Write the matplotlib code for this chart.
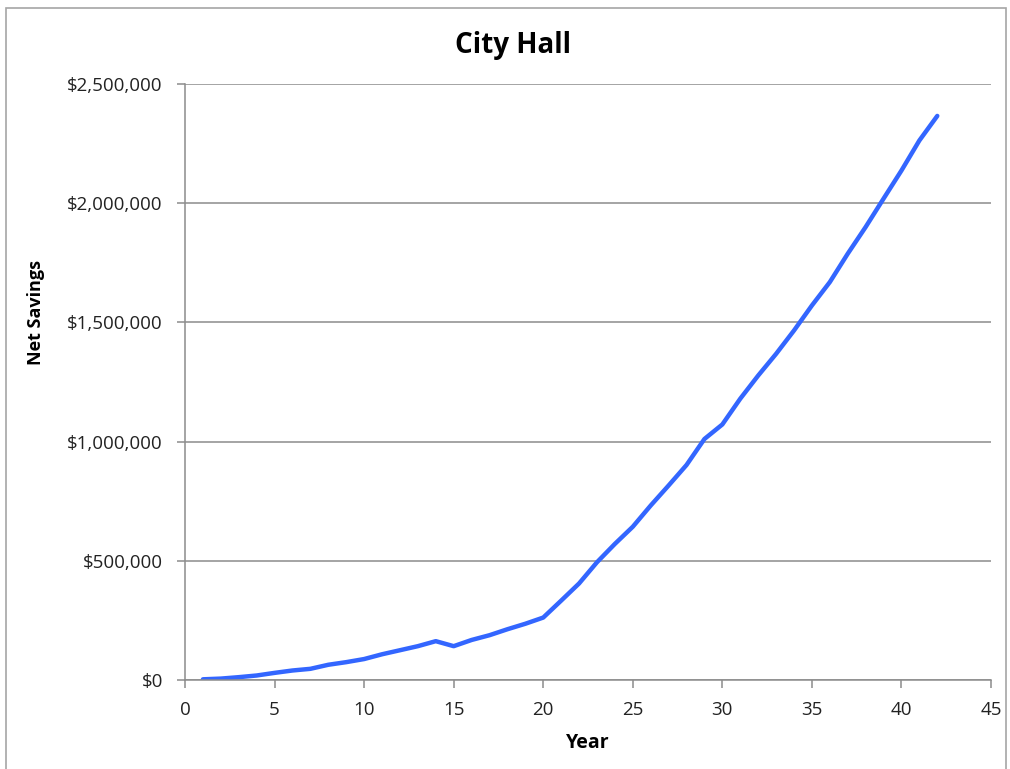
import matplotlib.pyplot as plt
import matplotlib.ticker as mticker
from matplotlib.patches import Rectangle

# data
years = list(range(1, 43))
net_savings = [3000, 6000, 12000, 19000, 30000, 40000, 47000, 64000, 75000, 88000,
               108000, 125000, 142000, 163000, 142000, 168000, 188000, 213000, 236000, 262000,
               333000, 405000, 494000, 571000, 643000, 732000, 816000, 902000, 1011000, 1072000,
               1180000, 1277000, 1368000, 1466000, 1571000, 1669000, 1788000, 1900000, 2019000, 2137000,
               2263000, 2366000]
x_ticks = [0, 5, 10, 15, 20, 25, 30, 35, 40, 45]
y_ticks = [0, 500000, 1000000, 1500000, 2000000, 2500000]

plt.rcParams['font.family'] = ['Open Sans', 'DejaVu Sans']

fig = plt.figure(figsize=(10.10, 7.69), dpi=100)
ax = fig.add_axes([0.1832, 0.1157, 0.7980, 0.7751])

# outer chart border
fig.patches.append(Rectangle((6 / 1010, -0.01), 1000 / 1010, 1 - 8 / 769 + 0.01,
                             transform=fig.transFigure, fill=False,
                             edgecolor='#a6a6a6', linewidth=1.2))

ax.plot(years, net_savings, color='#3366ff', linewidth=3.2, solid_capstyle='round')

ax.set_xlim(0, 45)
ax.set_ylim(0, 2500000)
ax.set_xticks(x_ticks)
ax.set_yticks(y_ticks)
ax.yaxis.set_major_formatter(mticker.FuncFormatter(lambda v, p: '${:,.0f}'.format(v)))

ax.grid(axis='y', color='#8c8c8c', linewidth=1.1)
ax.set_axisbelow(True)
for side in ['top', 'right']:
    ax.spines[side].set_visible(False)
for side in ['left', 'bottom']:
    ax.spines[side].set_color('#8c8c8c')
    ax.spines[side].set_linewidth(1.1)
ax.tick_params(direction='out', length=6, width=1.1, color='#8c8c8c',
               labelsize=13.5, labelcolor='#222222')
ax.tick_params(axis='y', pad=10)
ax.tick_params(axis='x', pad=9)

fig.text(0.508, 0.941, 'City Hall', ha='center', va='center',
         fontsize=20, fontweight='bold')
fig.text(0.582, 0.034, 'Year', ha='center', va='center',
         fontsize=14, fontweight='bold')
fig.text(0.036, 0.593, 'Net Savings', ha='center', va='center',
         rotation=90, fontsize=13, fontweight='bold')

fig.savefig('out.png', dpi=100)
